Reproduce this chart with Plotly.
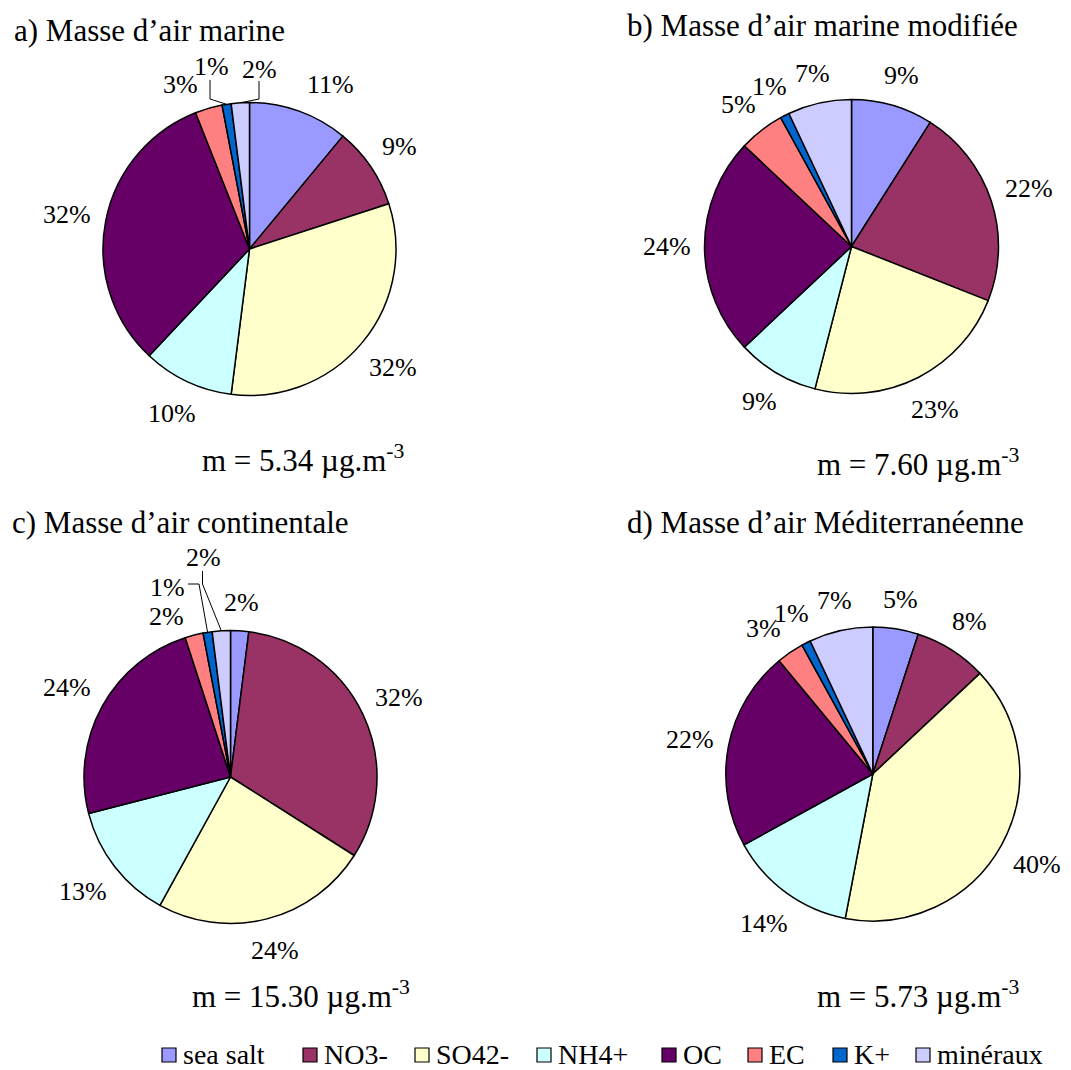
import math
import plotly.graph_objects as go

W, H = 1071, 1070

# Aerosol components and their colours
components = ["sea salt", "NO3-", "SO42-", "NH4+", "OC", "EC", "K+", "minéraux"]
colors = ["#9999FF", "#993366", "#FFFFCC", "#CCFFFF", "#660066", "#FF8080", "#0066CC", "#CCCCFF"]

# Mass fractions (%) for each air-mass type
pct_marine = [11, 9, 32, 10, 32, 3, 1, 2]
pct_marine_mod = [9, 22, 23, 9, 24, 5, 1, 7]
pct_continental = [2, 32, 24, 13, 24, 2, 1, 2]
pct_mediterranean = [5, 8, 40, 14, 22, 3, 1, 7]

titles = [
    "a) Masse d’air marine",
    "b) Masse d’air marine modifiée",
    "c) Masse d’air continentale",
    "d) Masse d’air Méditerranéenne",
]
masses = ["5.34", "7.60", "15.30", "5.73"]
series = [pct_marine, pct_marine_mod, pct_continental, pct_mediterranean]

SERIF = "Liberation Serif"

# Panel geometry in pixels: pie centre/radius, title and mass-label anchors,
# hand-placed labels for thin slices and their leader-line points.
panels = [
    dict(c=(249.5, 249), r=146.5, title=(12, 30), mass=(200, 458),
         moved={0: (330, 84), 5: (180, 84), 6: (211, 67), 7: (259, 69)},
         leaders={6: [(210, 80), (210, 99)], 7: [(259, 81), (259, 99)]}),
    dict(c=(851.5, 246.5), r=147, title=(625, 26), mass=(815, 462),
         moved={5: (738, 104)}, leaders={}),
    dict(c=(230.5, 777), r=146.5, title=(10, 522), mass=(190, 994),
         moved={5: (166, 616), 6: (167, 587), 7: (203, 557)},
         leaders={6: [(188, 584), (199, 584)], 7: [(202.5, 571), (202.5, 584)]}),
    dict(c=(872.8, 774), r=147, title=(625, 522), mass=(815, 994),
         moved={5: (763, 628)}, leaders={}),
]

# Legend box positions (left edge, px) and row centre
legend_x = [162, 303, 415, 537, 662, 748, 833, 916]
legend_y = 1054


def fx(x):
    return x / W


def fy(y):
    return 1 - y / H


fig = go.Figure()
annotations = []
shapes = []

for vals, title, mass, p in zip(series, titles, masses, panels):
    cx, cy = p["c"]
    r = p["r"]
    fig.add_trace(go.Pie(
        labels=components,
        values=vals,
        sort=False,
        direction="clockwise",
        rotation=0,
        textinfo="none",
        hoverinfo="label+percent",
        showlegend=False,
        marker=dict(colors=colors, line=dict(color="black", width=1.5)),
        domain=dict(x=[fx(cx - r), fx(cx + r)], y=[fy(cy + r), fy(cy - r)]),
    ))

    total = sum(vals)
    cum = 0
    for i, v in enumerate(vals):
        mid = math.radians(360 * (cum + v / 2) / total)
        cum += v
        s, c = math.sin(mid), math.cos(mid)
        text = f"{v}%"
        if i in p["moved"]:
            lx, ly = p["moved"][i]
        else:
            half_w = 9 + 6 * len(str(v))
            d = r + 16.5 + abs(s) * half_w + abs(c) * 11
            lx, ly = cx + d * s, cy - d * c
        annotations.append(dict(
            x=fx(lx), y=fy(ly), xref="paper", yref="paper", text=text,
            showarrow=False, xanchor="center", yanchor="middle",
            font=dict(family=SERIF, size=26, color="black"),
        ))
        if i in p["leaders"]:
            (x0, y0), (x1, y1) = p["leaders"][i]
            ex, ey = cx + r * s, cy - r * c
            shapes.append(dict(
                type="path", xref="paper", yref="paper",
                path=f"M {fx(x0)},{fy(y0)} L {fx(x1)},{fy(y1)} L {fx(ex)},{fy(ey)}",
                line=dict(color="black", width=1),
            ))

    tx, ty = p["title"]
    annotations.append(dict(
        x=fx(tx), y=fy(ty), xref="paper", yref="paper", text=title,
        showarrow=False, xanchor="left", yanchor="middle",
        font=dict(family=SERIF, size=31, color="black"),
    ))
    mx, my = p["mass"]
    annotations.append(dict(
        x=fx(mx), y=fy(my), xref="paper", yref="paper",
        text=f"m = {mass} µg.m<sup>-3</sup>",
        showarrow=False, xanchor="left", yanchor="middle",
        font=dict(family=SERIF, size=31, color="black"),
    ))

# Legend row: coloured squares with component names
box = 14
for name, col, x in zip(components, colors, legend_x):
    shapes.append(dict(
        type="rect", xref="paper", yref="paper",
        x0=fx(x), x1=fx(x + box), y0=fy(legend_y + 1 + box / 2), y1=fy(legend_y + 1 - box / 2),
        fillcolor=col, line=dict(color="black", width=1.2),
    ))
    annotations.append(dict(
        x=fx(x + box + 5), y=fy(legend_y), xref="paper", yref="paper", text=name,
        showarrow=False, xanchor="left", yanchor="middle",
        font=dict(family=SERIF, size=28, color="black"),
    ))

fig.update_layout(
    width=W, height=H,
    margin=dict(l=0, r=0, t=0, b=0),
    paper_bgcolor="white", plot_bgcolor="white",
    showlegend=False,
    annotations=annotations,
    shapes=shapes,
)

fig.write_html("out.html")
